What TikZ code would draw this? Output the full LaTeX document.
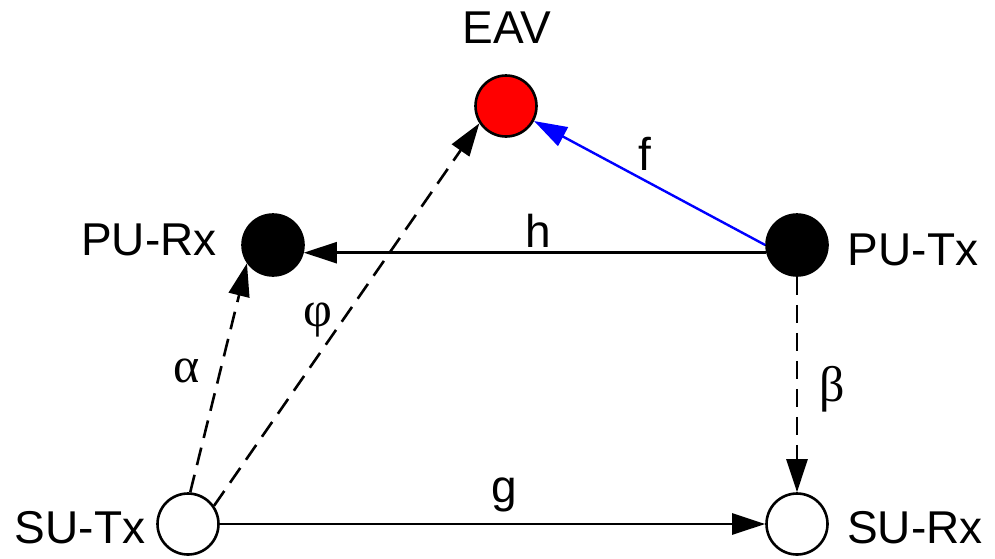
\documentclass[tikz,border=0pt]{standalone}
\usepackage{fontspec}
\setmainfont{Liberation Sans}
\newfontfamily\greekfont{Liberation Serif}
\usetikzlibrary{arrows.meta,calc}
\definecolor{EavClr}{RGB}{255,0,0}
\definecolor{LinkClr}{RGB}{0,0,255}

\begin{document}
\begin{tikzpicture}[x=1pt,y=-1pt,
  font=\fontsize{46}{55}\selectfont,
  user/.style={circle,draw,line width=2.6pt,minimum size=61pt,inner sep=0pt},
  link/.style={line width=2.6pt,-{Triangle[length=33pt,width=21pt]}},
  dlink/.style={link,dash pattern=on 18pt off 10pt},
  tag/.style={anchor=base,inner sep=0pt},
  gain/.style={inner sep=0pt,font=\fontsize{50}{60}\selectfont\greekfont}]
\useasboundingbox (0,0) rectangle (995,558);

\node[user,fill=EavClr] (EAV) at (506,106) {};
\node[user,fill=black] (PURx) at (273,245) {};
\node[user,fill=black] (PUTx) at (797,245) {};
\node[user,fill=white] (SUTx) at (188,524) {};
\node[user,fill=white] (SURx) at (797,524) {};

\node[tag] (EAVlbl) at (507,43) {EAV};
\node[tag] (PURxlbl) at (149,255) {PU-Rx};
\node[tag] (PUTxlbl) at (913,265) {PU-Tx};
\node[tag] (SUTxlbl) at (80,543) {SU-Tx};
\node[tag] (SURxlbl) at (915,543) {SU-Rx};

\draw[link,LinkClr,line width=2.4pt] (PUTx.west) -- (EAV);
\draw[link] (PUTx.194) -- (PURx.-14);
\draw[dlink] (PUTx.south) -- (SURx.north);
\draw[link] (SUTx) -- (SURx);
\draw[dlink] (SUTx.86) -- (PURx.215);
\draw[dlink] (SUTx.35) -- (EAV.213);

\node[tag] (flbl) at (645,170) {f};
\node[tag] (hlbl) at (538,247) {h};
\node[tag] (glbl) at (504,502) {g};
\node[gain] (alphalbl) at (187,371) {α};
\node[gain] (betalbl) at (832,389) {β};
\node[gain] (philbl) at (318,320) {φ};

\end{tikzpicture}
\end{document}
